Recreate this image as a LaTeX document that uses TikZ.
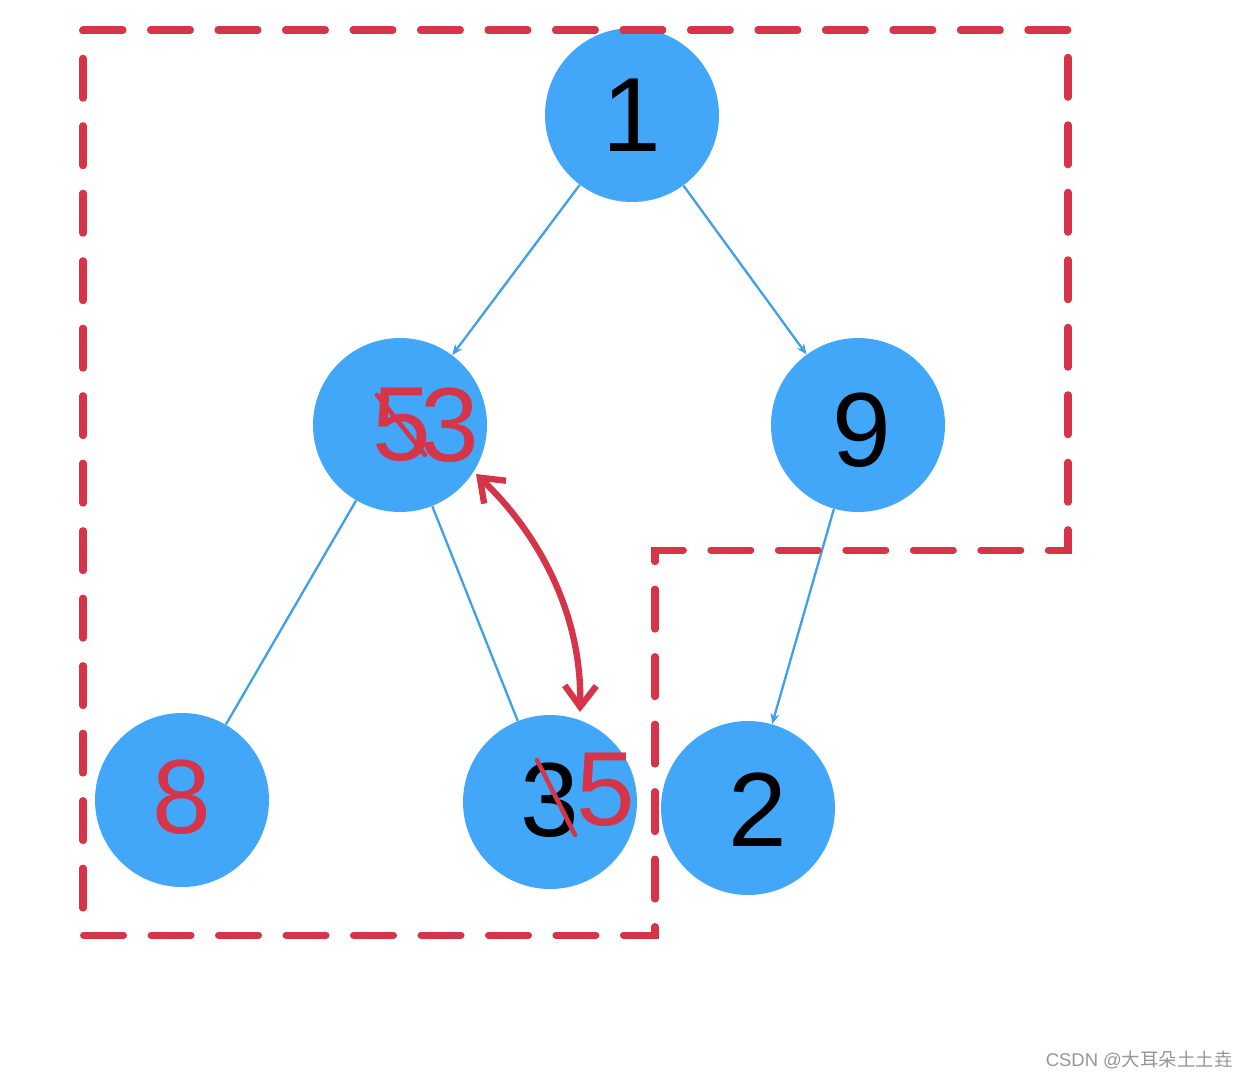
\documentclass[tikz,border=0pt]{standalone}
\usepackage{fontspec}
\setmainfont{Liberation Sans}
\newfontfamily\cjkfont{Noto Sans CJK SC}
\usetikzlibrary{arrows.meta}
\definecolor{nodeblue}{RGB}{66,167,248}
\definecolor{edgeblue}{RGB}{62,160,232}
\definecolor{penred}{RGB}{214,52,72}
\definecolor{wmgray}{RGB}{150,150,150}
\tikzset{
  tnode/.style={circle, fill=nodeblue, minimum size=174*0.02cm, inner sep=0pt},
  edge/.style={draw=edgeblue, line width=1.3pt},
  edgearr/.style={edge, -{Stealth[length=6pt,width=5pt]}},
  digit/.style={font=\fontsize{60}{60}\selectfont, inner sep=0pt},
  redbox/.style={draw=penred, line width=4pt, line cap=round, dash pattern=on 0.8cm off 0.55cm},
  strike/.style={draw=penred, line width=2.6pt, line cap=round},
  swap/.style={draw=penred, line width=3.6pt, line cap=round, {Straight Barb[length=12pt,width=18pt]}-{Straight Barb[length=12pt,width=18pt]}},
}
\begin{document}
\begin{tikzpicture}[x=0.02cm, y=-0.02cm]
\useasboundingbox (0,0) rectangle (1248,1080);
\fill[white] (0,0) rectangle (1248,1080);
% nodes
\node[tnode] (n1) at (632,115) {};
\node[tnode] (n53) at (400,425) {};
\node[tnode] (n9) at (858,425) {};
\node[tnode] (n8) at (182,800) {};
\node[tnode] (n35) at (550,802) {};
\node[tnode] (n2) at (748,808) {};
% edges
\draw[edgearr] (n1) -- (n53);
\draw[edgearr] (n1) -- (n9);
\draw[edge] (n53) -- (n8);
\draw[edge] (n53) -- (n35);
\draw[edgearr] (n9) -- (n2);
% labels
\node[digit] (t1) at (632,115) {1};
\node[digit] (t9) at (862,430) {9};
\node[digit, text=penred] (t8) at (182,797) {8};
\node[digit] (t2) at (758,810) {2};
\node[digit, text=penred] (t53a) at (402,425) {5};
\node[digit, text=penred] (t53b) at (450,425) {3};
\coordinate (s1a) at (377,395);
\coordinate (s1b) at (425,455);
\draw[strike] (s1a) -- (s1b);
\node[digit] (t35a) at (550,800) {3};
\node[digit, text=penred] (t35b) at (606,790) {5};
\coordinate (s2a) at (537,760);
\coordinate (s2b) at (575,835);
\draw[strike] (s2a) -- (s2b);
% swap arrow
\coordinate (sw1) at (476,474);
\coordinate (sw2) at (580,712);
\draw[swap] (sw1) .. controls (540,535) and (582,615) .. (sw2);
% dashed region
\coordinate (b1) at (83,30);
\coordinate (b2) at (1068,30);
\coordinate (b3) at (1068,550);
\coordinate (b4) at (655,550);
\coordinate (b5) at (655,935);
\coordinate (b6) at (83,935);
\draw[redbox] (b1) -- (b2) -- (b3) -- (b4) -- (b5) -- (b6) -- cycle;
% watermark
\node[anchor=east, text=wmgray, font=\fontsize{10.5}{12}\selectfont, inner sep=0pt] (wm) at (1233,1060) {CSDN @{\cjkfont 大耳朵土土垚}};
\end{tikzpicture}
\end{document}
